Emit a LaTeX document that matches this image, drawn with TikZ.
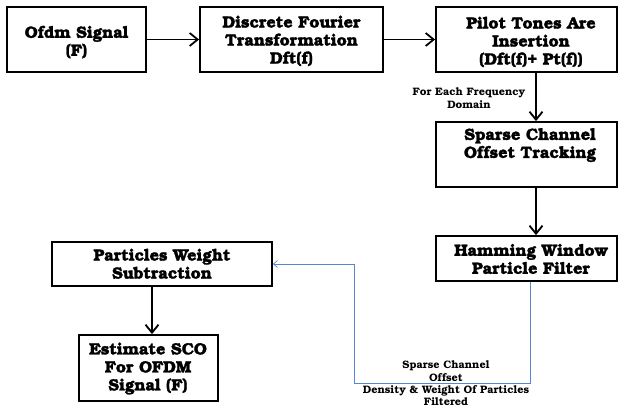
\documentclass[tikz,border=0pt]{standalone}
\usepackage[T1]{fontenc}
\usepackage{bookman}
\usetikzlibrary{arrows.meta,calc}
\definecolor{linkblue}{RGB}{84,135,205}
\newcommand\heavy[1]{\special{pdf:literal direct 2 Tr 0.25 w}#1\special{pdf:literal direct 0 Tr}}
\tikzset{
  box/.style={draw=black, line width=1.8pt, inner sep=0pt},
  txt/.style={align=center, inner sep=0pt, font=\bfseries\fontsize{16.3}{18}\selectfont},
  small/.style={align=center, inner sep=0pt, font=\bfseries\fontsize{10.8}{12.3}\selectfont},
  flow/.style={draw=black, line width=1.8pt, -{Straight Barb[length=8pt,width=13pt,line width=1.8pt]}},
  feedback/.style={draw=linkblue, line width=0.8pt, -{Straight Barb[length=4pt,width=7pt,line width=0.7pt]}}
}
\begin{document}
\begin{tikzpicture}[x=1pt,y=-1pt]
\useasboundingbox (0,0) rectangle (619,408);
% boxes
\node[box, minimum width=139pt, minimum height=65pt] (b1) at (76.5,39.5) {};
\node[box, minimum width=183pt, minimum height=65pt] (b2) at (291.5,39.5) {};
\node[box, minimum width=181pt, minimum height=65pt] (b3) at (526.5,39.5) {};
\node[box, minimum width=181pt, minimum height=65pt] (b4) at (526.5,154.5) {};
\node[box, minimum width=181pt, minimum height=45pt] (b5) at (526.5,258.5) {};
\node[box, minimum width=220pt, minimum height=44pt] (b6) at (162,264) {};
\node[box, minimum width=139pt, minimum height=66pt] (b7) at (148.5,368) {};
% texts
\node[txt] (t1) at (76.5,42) {\heavy{Ofdm Signal\\(F)}};
\node[txt] (t2) at (291.5,41) {\heavy{Discrete Fourier\\Transformation\\Dft(f)}};
\node[txt] (t3) at (531,42) {\heavy{Pilot Tones Are\\Insertion\\(Dft(f)+ Pt(f))}};
\node[txt] (t4) at (530,145) {\heavy{Sparse Channel\\Offset Tracking}};
\node[txt] (t5) at (531,259) {\heavy{Hamming Window\\Particle Filter}};
\node[txt] (t6) at (162,264) {\heavy{Particles Weight\\Subtraction}};
\node[txt] (t7) at (148,368.5) {\heavy{Estimate SCO\\For OFDM\\Signal (F)}};
\node[small] (l1) at (469,98) {For Each Frequency\\Domain};
\node[small] (l2) at (446,383.5) {Sparse Channel\\Offset\\Density \& Weight Of Particles\\Filtered};
% helper coordinates
\coordinate (ax) at (536,0);
\coordinate (bx) at (530,0);
\coordinate (by) at (0,383);
\coordinate (lx) at (354,0);
% connectors
\draw[flow] (b1) -- (b2);
\draw[flow] (b2) -- (b3);
\draw[flow] (b3.south -| ax) -- (b4.north -| ax);
\draw[flow] (b4.south -| ax) -- (b5.north -| ax);
\draw[flow] (b6.south -| b7.north) ++(3.5,0) coordinate (ex) (ex) -- (b7.north -| ex);
\draw[feedback] (b5.south -| bx) -- (bx |- by) -- (lx |- by) |- (b6.east);
\end{tikzpicture}
\end{document}
